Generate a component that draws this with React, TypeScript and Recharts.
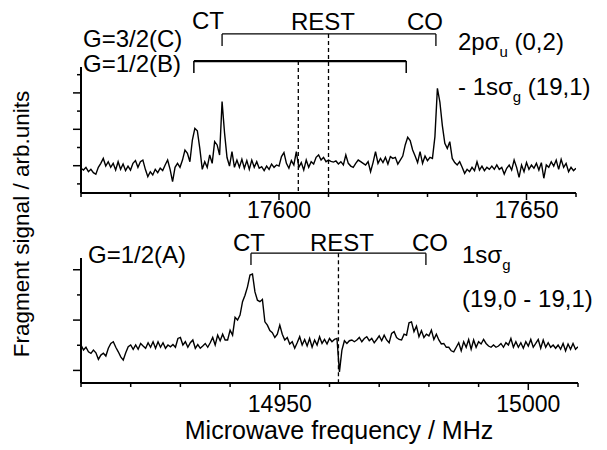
import React from "react";
import { LineChart, Line, XAxis, YAxis, ReferenceLine } from "recharts";

// ---------- data: upper panel, 2pσu(0,2) – 1sσg(19,1) ----------
const topFreqMHz = [
  17560, 17560.5, 17561, 17561.5, 17562, 17562.5, 17563, 17563.5, 17564, 17564.5,
  17565, 17565.5, 17566, 17566.5, 17567, 17567.5, 17568, 17568.5, 17569, 17569.5,
  17570, 17570.5, 17571, 17571.5, 17572, 17572.5, 17573, 17573.5, 17574, 17574.5,
  17575, 17575.5, 17576, 17576.5, 17577, 17577.5, 17578, 17578.5, 17579, 17579.5,
  17580, 17580.5, 17581, 17581.5, 17582, 17582.5, 17583, 17583.5, 17584, 17584.5,
  17585, 17585.5, 17586, 17586.5, 17587, 17587.5, 17588, 17588.5, 17589, 17589.5,
  17590, 17590.5, 17591, 17591.5, 17592, 17592.5, 17593, 17593.5, 17594, 17594.5,
  17595, 17595.5, 17596, 17596.5, 17597, 17597.5, 17598, 17598.5, 17599, 17599.5,
  17600, 17600.5, 17601, 17601.5, 17602, 17602.5, 17603, 17603.5, 17604, 17604.5,
  17605, 17605.5, 17606, 17606.5, 17607, 17607.5, 17608, 17608.5, 17609, 17609.5,
  17610, 17610.5, 17611, 17611.5, 17612, 17612.5, 17613, 17613.5, 17614, 17614.5,
  17615, 17615.5, 17616, 17616.5, 17617, 17617.5, 17618, 17618.5, 17619, 17619.5,
  17620, 17620.5, 17621, 17621.5, 17622, 17622.5, 17623, 17623.5, 17624, 17624.5,
  17625, 17625.5, 17626, 17626.5, 17627, 17627.5, 17628, 17628.5, 17629, 17629.5,
  17630, 17630.5, 17631, 17631.5, 17632, 17632.5, 17633, 17633.5, 17634, 17634.5,
  17635, 17635.5, 17636, 17636.5, 17637, 17637.5, 17638, 17638.5, 17639, 17639.5,
  17640, 17640.5, 17641, 17641.5, 17642, 17642.5, 17643, 17643.5, 17644, 17644.5,
  17645, 17645.5, 17646, 17646.5, 17647, 17647.5, 17648, 17648.5, 17649, 17649.5,
  17650, 17650.5, 17651, 17651.5, 17652, 17652.5, 17653, 17653.5, 17654, 17654.5,
  17655, 17655.5, 17656, 17656.5, 17657, 17657.5, 17658, 17658.5, 17659, 17659.5,
  17660,
];
const topSignal = [
  13.6, 12.6, 14.1, 11.7, 13.0, 11.2, 10.3, 14.1, 16.3, 19.0,
  14.8, 17.2, 14.1, 16.3, 12.6, 17.2, 13.0, 15.9, 12.3, 14.8,
  12.6, 16.3, 17.8, 14.1, 17.2, 18.1, 13.0, 9.0, 11.7, 9.9,
  13.0, 11.2, 13.6, 12.3, 15.4, 18.1, 13.0, 6.2, 14.1, 16.3,
  14.1, 18.1, 23.6, 21.8, 17.2, 29.1, 35.5, 34.2, 24.5, 13.0,
  17.2, 14.1, 20.9, 16.3, 28.2, 26.4, 20.9, 50.2, 33.0, 19.5,
  14.8, 22.7, 14.1, 18.1, 14.1, 18.5, 13.6, 17.8, 13.0, 18.1,
  14.1, 17.2, 13.6, 14.5, 12.3, 14.8, 13.0, 15.9, 14.1, 15.4,
  14.8, 20.0, 22.2, 16.3, 13.6, 17.8, 15.4, 22.7, 14.1, 16.7,
  12.6, 18.1, 14.1, 17.2, 15.9, 19.6, 20.9, 18.1, 19.6, 17.2,
  18.1, 17.4, 17.0, 17.6, 15.9, 17.2, 15.4, 20.9, 16.3, 14.8,
  14.1, 16.3, 18.1, 17.2, 16.3, 15.4, 17.2, 11.7, 16.7, 22.7,
  16.3, 19.0, 16.7, 19.6, 15.9, 20.0, 19.0, 19.6, 15.9, 18.1,
  20.3, 26.4, 30.6, 28.8, 23.6, 20.3, 16.7, 22.7, 16.3, 20.3,
  17.8, 19.6, 19.0, 31.0, 57.5, 50.0, 37.0, 27.3, 24.5, 28.2,
  19.0, 16.7, 15.4, 17.2, 14.1, 10.8, 13.0, 11.7, 14.1, 12.3,
  17.2, 12.6, 14.8, 12.3, 14.1, 13.0, 14.8, 13.0, 15.4, 13.0,
  14.1, 10.4, 13.6, 15.4, 12.6, 18.1, 14.1, 8.6, 15.4, 11.7,
  16.7, 13.0, 15.4, 13.6, 16.3, 12.6, 16.7, 8.1, 15.4, 14.1,
  17.2, 14.8, 18.1, 13.0, 18.5, 14.1, 16.3, 11.7, 14.1, 12.3,
  13.6,
];

// ---------- data: lower panel, 1sσg (19,0 – 19,1) ----------
const bottomFreqMHz = [
  14910, 14910.5, 14911, 14911.5, 14912, 14912.5, 14913, 14913.5, 14914, 14914.5,
  14915, 14915.5, 14916, 14916.5, 14917, 14917.5, 14918, 14918.5, 14919, 14919.5,
  14920, 14920.5, 14921, 14921.5, 14922, 14922.5, 14923, 14923.5, 14924, 14924.5,
  14925, 14925.5, 14926, 14926.5, 14927, 14927.5, 14928, 14928.5, 14929, 14929.5,
  14930, 14930.5, 14931, 14931.5, 14932, 14932.5, 14933, 14933.5, 14934, 14934.5,
  14935, 14935.5, 14936, 14936.5, 14937, 14937.5, 14938, 14938.5, 14939, 14939.5,
  14940, 14940.5, 14941, 14941.5, 14942, 14942.5, 14943, 14943.5, 14944, 14944.5,
  14945, 14945.5, 14946, 14946.5, 14947, 14947.5, 14948, 14948.5, 14949, 14949.5,
  14950, 14950.5, 14951, 14951.5, 14952, 14952.5, 14953, 14953.5, 14954, 14954.5,
  14955, 14955.5, 14956, 14956.5, 14957, 14957.5, 14958, 14958.5, 14959, 14959.5,
  14960, 14960.5, 14961, 14961.5, 14962, 14962.5, 14963, 14963.5, 14964, 14964.5,
  14965, 14965.5, 14966, 14966.5, 14967, 14967.5, 14968, 14968.5, 14969, 14969.5,
  14970, 14970.5, 14971, 14971.5, 14972, 14972.5, 14973, 14973.5, 14974, 14974.5,
  14975, 14975.5, 14976, 14976.5, 14977, 14977.5, 14978, 14978.5, 14979, 14979.5,
  14980, 14980.5, 14981, 14981.5, 14982, 14982.5, 14983, 14983.5, 14984, 14984.5,
  14985, 14985.5, 14986, 14986.5, 14987, 14987.5, 14988, 14988.5, 14989, 14989.5,
  14990, 14990.5, 14991, 14991.5, 14992, 14992.5, 14993, 14993.5, 14994, 14994.5,
  14995, 14995.5, 14996, 14996.5, 14997, 14997.5, 14998, 14998.5, 14999, 14999.5,
  15000, 15000.5, 15001, 15001.5, 15002, 15002.5, 15003, 15003.5, 15004, 15004.5,
  15005, 15005.5, 15006, 15006.5, 15007, 15007.5, 15008, 15008.5, 15009, 15009.5,
  15010,
];
const bottomSignal = [
  15.1, 13.1, 14.2, 12.4, 11.8, 13.1, 12.0, 9.4, 11.1, 11.8,
  10.7, 13.8, 15.7, 16.4, 14.2, 12.4, 10.4, 9.1, 12.0, 14.4,
  15.1, 13.4, 15.1, 13.4, 15.7, 14.7, 13.8, 16.0, 14.2, 16.4,
  13.8, 16.4, 14.2, 16.0, 13.8, 15.1, 14.4, 15.3, 14.2, 17.7,
  18.1, 15.1, 16.4, 14.2, 16.0, 17.1, 13.8, 15.3, 13.8, 14.7,
  15.7, 14.2, 16.0, 18.1, 15.1, 19.0, 16.8, 19.4, 17.1, 17.1,
  21.0, 19.0, 26.1, 25.0, 27.0, 32.3, 34.9, 38.2, 42.9, 43.3,
  36.2, 32.9, 32.3, 33.2, 24.3, 23.0, 20.8, 20.0, 18.1, 19.4,
  23.0, 19.4, 17.1, 18.1, 15.5, 16.4, 13.8, 16.0, 18.4, 15.1,
  17.3, 14.7, 17.7, 14.2, 17.1, 15.1, 18.4, 15.7, 17.3, 15.5,
  17.7, 16.4, 17.3, 17.7, 4.4, 13.1, 16.8, 15.7, 16.8, 17.1,
  16.4, 17.1, 18.1, 16.4, 17.7, 18.4, 16.8, 17.7, 16.0, 17.3,
  18.7, 16.8, 19.0, 17.1, 16.0, 19.7, 20.4, 18.1, 17.3, 17.1,
  19.4, 19.0, 23.9, 24.3, 20.4, 22.6, 18.4, 20.8, 18.1, 19.4,
  18.7, 21.0, 17.3, 19.4, 17.1, 15.5, 15.7, 14.2, 14.2, 12.8,
  12.4, 14.2, 16.0, 12.8, 16.4, 14.2, 17.3, 13.4, 17.1, 14.2,
  16.4, 15.5, 17.3, 15.7, 14.7, 14.2, 15.1, 14.2, 14.7, 15.7,
  14.2, 16.0, 15.1, 17.7, 14.2, 16.4, 14.2, 16.0, 13.8, 16.4,
  14.7, 17.3, 14.2, 15.7, 17.3, 13.8, 17.1, 14.2, 16.0, 14.2,
  15.1, 13.8, 15.1, 13.4, 15.7, 12.8, 15.5, 13.4, 15.7, 13.4,
  14.4,
];

// ---------- ticks ----------
const topXTicks = [17560, 17570, 17580, 17590, 17600, 17610, 17620, 17630, 17640, 17650, 17660];
const topXLabels = [17600, 17650];
const topYTicks = [5, 15, 25, 35, 45, 55, 65];
const topYLong = [15, 35, 55];
const bottomXTicks = [14910, 14920, 14930, 14940, 14950, 14960, 14970, 14980, 14990, 15000, 15010];
const bottomXLabels = [14950, 15000];
const bottomYTicks = [5, 15, 25, 35, 45];
const bottomYLong = [5, 25, 45];

// ---------- transition markers (MHz) ----------
const topC = { ct: 17588.5, rest: 17610.0, co: 17631.7 }; // G=3/2(C)
const topB = { ct: 17582.8, rest: 17603.9, co: 17625.7 }; // G=1/2(B)
const bottomA = { ct: 14944.2, rest: 14961.8, co: 14979.4 }; // G=1/2(A)

const FONT = 'Arial, "Liberation Sans", Helvetica, sans-serif';

const topData = topFreqMHz.map((f, i) => ({ f, s: topSignal[i] }));
const bottomData = bottomFreqMHz.map((f, i) => ({ f, s: bottomSignal[i] }));

function makeXTick(labels: number[], labelDy: number) {
  return (props: any) => {
    const { x, y, payload } = props;
    const labeled = labels.includes(payload.value);
    return (
      <g>
        <line x1={x} x2={x} y1={y} y2={y + (labeled ? 7 : 4)} stroke="#000" strokeWidth={1.5} />
        {labeled && (
          <text x={x} y={y + labelDy} textAnchor="middle" fontSize={23} fontFamily={FONT} fill="#000">
            {payload.value}
          </text>
        )}
      </g>
    );
  };
}

function makeYTick(longTicks: number[]) {
  return (props: any) => {
    const { x, y, payload } = props;
    const long = longTicks.includes(payload.value);
    return <line x1={x - (long ? 8 : 4)} x2={x} y1={y} y2={y} stroke="#000" strokeWidth={1.5} />;
  };
}

const BLACK = "#000";

export default function App() {
  return (
    <div
      style={{
        position: "absolute",
        left: 0,
        top: 0,
        width: 607,
        height: 450,
        background: "#fff",
        fontFamily: FONT,
        overflow: "hidden",
      }}
    >
      {/* upper panel */}
      <div style={{ position: "absolute", left: 0, top: 0 }}>
        <LineChart width={607} height={225} data={topData} margin={{ top: 11, right: 31, left: 71, bottom: 0 }}>
          <XAxis
            type="number"
            dataKey="f"
            domain={[17560, 17660]}
            allowDataOverflow
            ticks={topXTicks}
            interval={0}
            height={32}
            tickSize={0}
            tickMargin={0}
            tickLine={false}
            axisLine={{ stroke: BLACK, strokeWidth: 2 }}
            tick={makeXTick(topXLabels, 25)}
          />
          <YAxis
            type="number"
            domain={[0, 100]}
            allowDataOverflow
            ticks={topYTicks}
            interval={0}
            width={10}
            tickSize={0}
            tickMargin={0}
            tickLine={false}
            axisLine={false}
            tick={makeYTick(topYLong)}
          />
          <ReferenceLine segment={[{ x: 17560, y: 0 }, { x: 17560, y: 69.2 }]} stroke={BLACK} strokeWidth={2} />
          {/* G=3/2(C) bracket */}
          <ReferenceLine segment={[{ x: topC.ct, y: 87.4 }, { x: topC.co, y: 87.4 }]} stroke={BLACK} strokeWidth={1.3} />
          <ReferenceLine segment={[{ x: topC.ct, y: 87.4 }, { x: topC.ct, y: 80.8 }]} stroke={BLACK} strokeWidth={1.3} />
          <ReferenceLine segment={[{ x: topC.co, y: 87.4 }, { x: topC.co, y: 80.8 }]} stroke={BLACK} strokeWidth={1.3} />
          <ReferenceLine segment={[{ x: topC.rest, y: 87.4 }, { x: topC.rest, y: 0 }]} stroke={BLACK} strokeWidth={1.3} strokeDasharray="4 3" />
          {/* G=1/2(B) bracket */}
          <ReferenceLine segment={[{ x: topB.ct, y: 72.5 }, { x: topB.co, y: 72.5 }]} stroke={BLACK} strokeWidth={2.2} />
          <ReferenceLine segment={[{ x: topB.ct, y: 72.5 }, { x: topB.ct, y: 65.9 }]} stroke={BLACK} strokeWidth={1.5} />
          <ReferenceLine segment={[{ x: topB.co, y: 72.5 }, { x: topB.co, y: 65.9 }]} stroke={BLACK} strokeWidth={1.5} />
          <ReferenceLine segment={[{ x: topB.rest, y: 72.5 }, { x: topB.rest, y: 0 }]} stroke={BLACK} strokeWidth={1.3} strokeDasharray="4 3" />
          <Line type="linear" dataKey="s" stroke={BLACK} strokeWidth={1.4} dot={false} isAnimationActive={false} />
        </LineChart>
      </div>

      {/* lower panel */}
      <div style={{ position: "absolute", left: 0, top: 220 }}>
        <LineChart width={607} height={230} data={bottomData} margin={{ top: 12, right: 29, left: 71, bottom: 0 }}>
          <XAxis
            type="number"
            dataKey="f"
            domain={[14910, 15010]}
            allowDataOverflow
            ticks={bottomXTicks}
            interval={0}
            height={67}
            tickSize={0}
            tickMargin={0}
            tickLine={false}
            axisLine={{ stroke: BLACK, strokeWidth: 2 }}
            tick={makeXTick(bottomXLabels, 29)}
          />
          <YAxis
            type="number"
            domain={[0, 60]}
            allowDataOverflow
            ticks={bottomYTicks}
            interval={0}
            width={10}
            tickSize={0}
            tickMargin={0}
            tickLine={false}
            axisLine={false}
            tick={makeYTick(bottomYLong)}
          />
          <ReferenceLine segment={[{ x: 14910, y: 0 }, { x: 14910, y: 49.7 }]} stroke={BLACK} strokeWidth={2} />
          <ReferenceLine segment={[{ x: bottomA.ct, y: 51.6 }, { x: bottomA.co, y: 51.6 }]} stroke={BLACK} strokeWidth={1.3} />
          <ReferenceLine segment={[{ x: bottomA.ct, y: 51.6 }, { x: bottomA.ct, y: 46.9 }]} stroke={BLACK} strokeWidth={1.3} />
          <ReferenceLine segment={[{ x: bottomA.co, y: 51.6 }, { x: bottomA.co, y: 46.9 }]} stroke={BLACK} strokeWidth={1.3} />
          <ReferenceLine segment={[{ x: bottomA.rest, y: 51.6 }, { x: bottomA.rest, y: 0 }]} stroke={BLACK} strokeWidth={1.3} strokeDasharray="4 3" />
          <Line type="linear" dataKey="s" stroke={BLACK} strokeWidth={1.4} dot={false} isAnimationActive={false} />
        </LineChart>
      </div>

      {/* labels */}
      <svg
        width={607}
        height={450}
        style={{ position: "absolute", left: 0, top: 0, pointerEvents: "none" }}
        fontFamily={FONT}
        fill="#000"
      >
        <g fontSize={24}>
          <text x={83} y={47}>G=3/2(C)</text>
          <text x={83} y={72}>G=1/2(B)</text>
          <text x={192} y={29}>CT</text>
          <text x={291} y={30}>REST</text>
          <text x={407} y={30}>CO</text>
          <text x={458} y={50}>
            2pσ<tspan dy={7} fontSize={15}>u</tspan>
            <tspan dy={-7}> (0,2)</tspan>
          </text>
          <text x={458} y={95}>
            - 1sσ<tspan dy={7} fontSize={15}>g</tspan>
            <tspan dy={-7}> (19,1)</tspan>
          </text>

          <text x={88} y={263}>G=1/2(A)</text>
          <text x={233} y={251}>CT</text>
          <text x={310} y={251}>REST</text>
          <text x={412} y={251}>CO</text>
          <text x={462} y={263}>
            1sσ<tspan dy={7} fontSize={15}>g</tspan>
          </text>
          <text x={462} y={307}>(19,0 - 19,1)</text>
        </g>
        <text x={339} y={439} fontSize={25} textAnchor="middle">Microwave frequency / MHz</text>
        <text x={29} y={224} fontSize={22.5} textAnchor="middle" transform="rotate(-90 29 224)">
          Fragment signal / arb.units
        </text>
      </svg>
    </div>
  );
}
